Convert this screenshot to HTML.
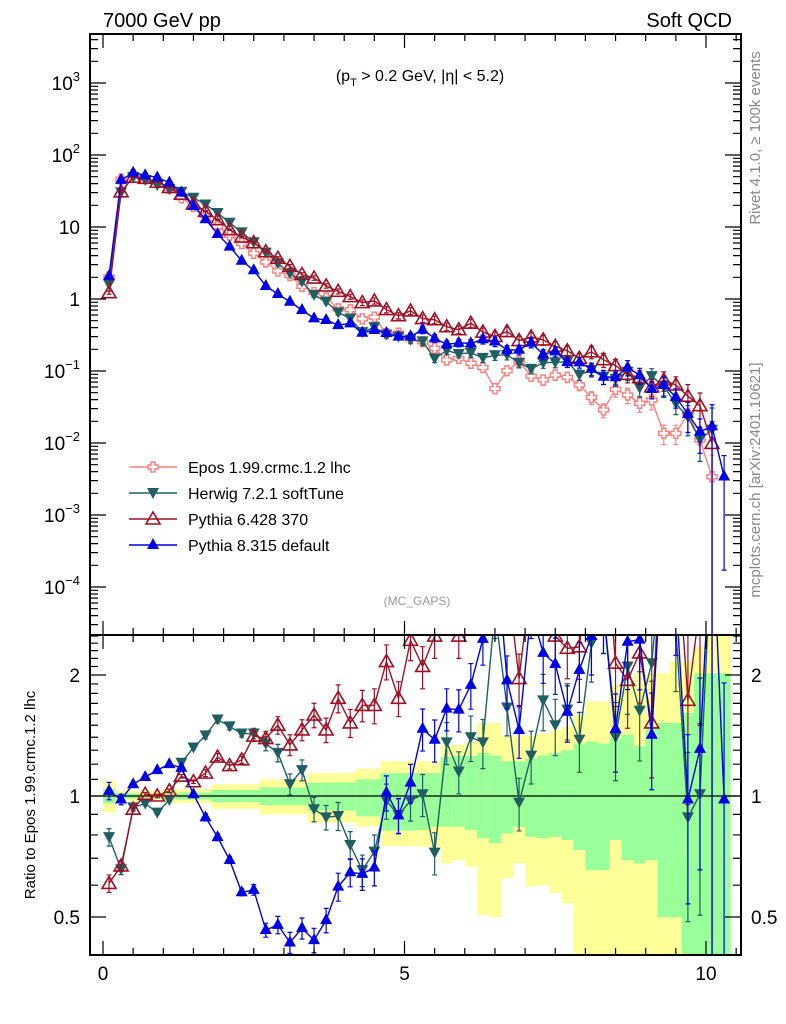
<!DOCTYPE html>
<html><head><meta charset="utf-8"><style>
html,body{margin:0;padding:0;background:#fff}
svg{display:block;font-family:"Liberation Sans",Arial,sans-serif}
</style></head><body>
<svg id="chart" width="786" height="1024" viewBox="0 0 786 1024" xmlns="http://www.w3.org/2000/svg">
<defs>
<clipPath id="clipMain"><rect x="90" y="34" width="651" height="601"/></clipPath>
<clipPath id="clipRatio"><rect x="90" y="635" width="651" height="320"/></clipPath>
</defs>
<g id="bands" clip-path="url(#clipRatio)"></g>
<g id="mainSeries" clip-path="url(#clipMain)"></g>
<g id="ratioSeries" clip-path="url(#clipRatio)"></g>
<g id="axes"></g>
<text x="103" y="27" font-size="20">7000 GeV pp</text>
<text x="732" y="27" font-size="20" text-anchor="end">Soft QCD</text>
<text x="420" y="81" font-size="16" text-anchor="middle">(p<tspan font-size="11" dy="5">T</tspan><tspan dy="-5"> &gt; 0.2 GeV, |η| &lt; 5.2)</tspan></text>
<text x="417" y="605" font-size="12" fill="#999" text-anchor="middle">(MC_GAPS)</text>
<text transform="translate(760,138) rotate(-90)" font-size="15" fill="#888" text-anchor="middle">Rivet 4.1.0, ≥ 100k events</text>
<text transform="translate(760,480) rotate(-90)" font-size="15" fill="#888" text-anchor="middle">mcplots.cern.ch [arXiv:2401.10621]</text>
<text transform="translate(35,795) rotate(-90)" font-size="15" text-anchor="middle">Ratio to Epos 1.99.crmc.1.2 lhc</text>
<g id="legend"></g>
</svg>
<script>
const xCenters = [0.1,0.3,0.5,0.7,0.9,1.1,1.3,1.5,1.7,1.9,2.1,2.3,2.5,2.7,2.9,3.1,3.3,3.5,3.7,3.9,4.1,4.3,4.5,4.7,4.9,5.1,5.3,5.5,5.7,5.9,6.1,6.3,6.5,6.7,6.9,7.1,7.3,7.5,7.7,7.9,8.1,8.3,8.5,8.7,8.9,9.1,9.3,9.5,9.7,9.9,10.1,10.3];
const eposValues = [2.02,46,53,47,42,34.4,25.5,19.3,14.5,10.1,7.7,5.9,4.3,3.26,2.45,2.12,1.5,1.23,1.04,0.73,0.71,0.53,0.56,0.33,0.335,0.28,0.255,0.206,0.142,0.15,0.128,0.112,0.057,0.101,0.135,0.085,0.075,0.088,0.082,0.064,0.043,0.0287,0.0556,0.0464,0.0356,0.0396,0.0136,0.0136,0.0258,0.011,0.0034,0.0035];
const eposShown = [1,1,1,1,1,1,1,1,1,1,1,1,1,1,1,1,1,1,1,1,1,1,1,1,1,1,1,1,1,1,1,1,1,1,1,1,1,1,1,1,1,1,1,1,1,1,1,1,1,1,1,0];
const herwigRatio = [0.79,0.657,0.937,0.958,0.909,0.977,1.21,1.32,1.415,1.55,1.49,1.43,1.43,1.35,1.28,1.07,1.16,0.927,0.885,0.892,0.755,0.654,0.727,0.973,0.897,0.973,1.01,0.723,1.36,1.15,1.40,1.36,2.9,1.66,0.963,1.26,1.73,1.5,1.64,1.38,2.4,2.9,1.4,2.1,1.63,2.14,4.5,2.6,0.885,1.01,4.5,null];
const pythia6Ratio = [0.606,0.67,0.927,1.01,1.0,1.03,1.12,1.085,1.14,1.25,1.19,1.23,1.41,1.39,1.5,1.34,1.46,1.59,1.46,1.75,1.52,1.68,1.68,2.16,1.75,2.44,2.1,2.5,2.9,2.5,3.6,3.1,5.3,3.5,1.96,3.5,3.6,2.5,2.33,2.35,4.3,5,2.14,1.94,2.27,1.52,5.5,4.7,1.73,3,2.9,null];
const pythia8Ratio = [1.03,0.98,1.07,1.115,1.16,1.2,1.176,1.01,0.885,0.79,0.693,0.576,0.584,0.464,0.478,0.432,0.469,0.438,0.491,0.595,0.646,0.64,0.664,1.02,0.895,1.08,1.47,1.38,1.65,1.64,1.89,2.46,4.5,1.94,1.46,2.9,2.27,2.13,1.62,2.06,2.5,2.9,1.47,2.42,2.45,1.42,4.7,3.2,0.98,1.31,5,0.98];
const errFrac = [0.05,0.03,0.01,0.01,0.01,0.01,0.01,0.01,0.02,0.02,0.02,0.02,0.03,0.04,0.05,0.06,0.06,0.07,0.07,0.08,0.08,0.09,0.1,0.1,0.1,0.11,0.12,0.12,0.12,0.12,0.13,0.14,0.15,0.15,0.15,0.15,0.16,0.16,0.16,0.17,0.2,0.22,0.22,0.24,0.25,0.27,0.3,0.3,0.45,0.5,1.0,0.95];
const yellowHi = [1.09,1.03,1.03,1.03,1.03,1.04,1.04,1.04,1.04,1.07,1.07,1.07,1.07,1.1,1.1,1.1,1.1,1.14,1.14,1.14,1.14,1.17,1.17,1.22,1.22,1.22,1.22,1.22,1.34,1.34,1.365,1.52,1.52,1.41,1.41,1.41,1.43,1.46,1.49,1.59,1.72,1.72,1.89,1.89,2.02,2.02,2.02,2.16,2.16,2.35,2.6,2.6];
const yellowLo = [0.91,0.97,0.97,0.97,0.97,0.96,0.96,0.96,0.96,0.93,0.93,0.93,0.93,0.9,0.9,0.9,0.9,0.86,0.86,0.86,0.86,0.84,0.84,0.75,0.75,0.75,0.748,0.748,0.68,0.693,0.667,0.506,0.5,0.624,0.68,0.595,0.6,0.573,0.541,0.3,0.3,0.3,0.3,0.3,0.3,0.3,0.3,0.3,0.68,0.3,0.3,0.3];
const greenHi = [1.04,1.015,1.015,1.015,1.015,1.02,1.02,1.02,1.02,1.035,1.035,1.035,1.035,1.05,1.05,1.05,1.05,1.08,1.08,1.08,1.08,1.1,1.1,1.14,1.14,1.14,1.14,1.14,1.25,1.26,1.26,1.28,1.26,1.22,1.22,1.24,1.26,1.28,1.3,1.35,1.365,1.35,1.39,1.42,1.33,1.49,1.52,1.52,1.61,2.02,2.02,2.02];
const greenLo = [0.96,0.985,0.985,0.985,0.985,0.98,0.98,0.98,0.98,0.965,0.965,0.965,0.965,0.95,0.95,0.95,0.95,0.92,0.92,0.92,0.92,0.89,0.89,0.82,0.82,0.82,0.823,0.839,0.839,0.839,0.823,0.785,0.763,0.807,0.839,0.792,0.785,0.792,0.777,0.734,0.654,0.654,0.777,0.693,0.68,0.693,0.5,0.5,0.3,0.3,0.3,0.3];
const mainTickExps = [3,2,1,0,-1,-2,-3,-4];
const ratioTickVals = [2,1,0.5];
const xTickLabels = [0,5,10];

const NS = "http://www.w3.org/2000/svg";
const X = x => 103 + 60.3 * x;
const Ym = v => 299 - 72 * Math.log10(v);
const Yr = r => 796 - 121 * Math.log2(r);
function mk(tag, attrs, parent) {
  const e = document.createElementNS(NS, tag);
  for (const k in attrs) e.setAttribute(k, attrs[k]);
  parent.appendChild(e);
  return e;
}
const gBands = document.getElementById('bands');
const gMain = document.getElementById('mainSeries');
const gRatio = document.getElementById('ratioSeries');
const gAxes = document.getElementById('axes');
const gLeg = document.getElementById('legend');

xCenters.forEach((x, i) => {
  const y = mk('rect', {x: X(x - 0.1), y: Yr(yellowHi[i]), width: X(x + 0.1) - X(x - 0.1) + 0.5, height: Yr(yellowLo[i]) - Yr(yellowHi[i]), fill: '#ffff99'}, gBands);
  
  
  const g = mk('rect', {x: X(x - 0.1), y: Yr(greenHi[i]), width: X(x + 0.1) - X(x - 0.1) + 0.5, height: Yr(greenLo[i]) - Yr(greenHi[i]), fill: '#99ff99'}, gBands);
  
  
});
const oneLine = mk('line', {x1: 90, x2: 741, y1: Yr(1), y2: Yr(1), stroke: '#000', 'stroke-width': 1.2}, gBands);



function marker(type, cx, cy, color, parent) {
  let e;
  if (type === 'cross') {
    const s = 5, w = 2;
    const d = `M${cx-w},${cy-s}H${cx+w}V${cy-w}H${cx+s}V${cy+w}H${cx+w}V${cy+s}H${cx-w}V${cy+w}H${cx-s}V${cy-w}H${cx-w}Z`;
    e = mk('path', {d: d, fill: '#fff', stroke: color, 'stroke-width': 1.5}, parent);
  } else if (type === 'down') {
    e = mk('path', {d: `M${cx-6},${cy-5}L${cx+6},${cy-5}L${cx},${cy+6}Z`, fill: color}, parent);
  } else if (type === 'open') {
    e = mk('path', {d: `M${cx},${cy-7}L${cx+7},${cy+5}L${cx-7},${cy+5}Z`, fill: 'none', stroke: color, 'stroke-width': 1.6}, parent);
  } else {
    e = mk('path', {d: `M${cx},${cy-7}L${cx+6},${cy+4}L${cx-6},${cy+4}Z`, fill: color}, parent);
  }
  return e;
}

const series = [
  {name: 'epos', label: 'Epos 1.99.crmc.1.2 lhc', color: '#ff8080', type: 'cross', ratio: null},
  {name: 'herwig', label: 'Herwig 7.2.1 softTune', color: '#1f5f63', type: 'down', ratio: herwigRatio},
  {name: 'pythia6', label: 'Pythia 6.428 370', color: '#a01025', type: 'open', ratio: pythia6Ratio},
  {name: 'pythia8', label: 'Pythia 8.315 default', color: '#0000e6', type: 'up', ratio: pythia8Ratio}
];

series.forEach(s => {
  const mainVals = s.ratio ? eposValues.map((v, i) => s.ratio[i] == null ? null : v * s.ratio[i]) : eposValues.map((v, i) => eposShown[i] ? v : null);
  const gm = mk('g', {}, gMain);
  
  
  let pts = [];
  mainVals.forEach((v, i) => { if (v != null) pts.push(X(xCenters[i]) + ',' + Ym(v)); });
  const pl = mk('polyline', {points: pts.join(' '), fill: 'none', stroke: s.color, 'stroke-width': 1.4}, gm);
  
  
  mainVals.forEach((v, i) => {
    if (v == null) return;
    const cx = X(xCenters[i]), cy = Ym(v);
    const lo = v * (1 - errFrac[i]), hi = v * (1 + errFrac[i]);
    const eb = mk('path', {d: `M${cx},${Ym(hi)}V${lo > 0 ? Ym(lo) : 700}M${cx-2.5},${Ym(hi)}H${cx+2.5}` + (lo > 0 ? `M${cx-2.5},${Ym(lo)}H${cx+2.5}` : ''), stroke: s.color, 'stroke-width': 1.2, fill: 'none'}, gm);
    
    
    const m = marker(s.type, cx, cy, s.color, gm);
    
    
  });
  if (s.ratio) {
    const gr = mk('g', {}, gRatio);
    
    
    let rp = [];
    s.ratio.forEach((r, i) => { if (r != null) rp.push(X(xCenters[i]) + ',' + Yr(r)); });
    const rl = mk('polyline', {points: rp.join(' '), fill: 'none', stroke: s.color, 'stroke-width': 1.4}, gr);
    
    
    s.ratio.forEach((r, i) => {
      if (r == null) return;
      const cx = X(xCenters[i]);
      const lo = r * (1 - errFrac[i]), hi = r * (1 + errFrac[i]);
      const eb = mk('path', {d: `M${cx},${Yr(hi)}V${lo > 0.05 ? Yr(lo) : 1000}M${cx-2.5},${Yr(hi)}H${cx+2.5}` + (lo > 0.05 ? `M${cx-2.5},${Yr(lo)}H${cx+2.5}` : ''), stroke: s.color, 'stroke-width': 1.2, fill: 'none'}, gr);
      
      
      const m = marker(s.type, cx, Yr(r), s.color, gr);
      
      
    });
  }
});

series.forEach((s, k) => {
  const y = 467 + 26 * k;
  const ln = mk('line', {x1: 129, x2: 177, y1: y, y2: y, stroke: s.color, 'stroke-width': 1.4}, gLeg);
  
  
  const m = marker(s.type, 153, y, s.color, gLeg);
  
  
  const t = mk('text', {x: 188, y: y + 6, 'font-size': 16}, gLeg);
  t.textContent = s.label;
  
  
});

const f1 = mk('rect', {x: 90, y: 34, width: 651, height: 601, fill: 'none', stroke: '#000', 'stroke-width': 2}, gAxes);


const f2 = mk('rect', {x: 90, y: 635, width: 651, height: 320, fill: 'none', stroke: '#000', 'stroke-width': 2}, gAxes);



let tk = '';
for (let x = 0; x <= 10.5; x += 0.5) {
  const px = X(x), major = Math.abs(x % 5) < 1e-6, L = major ? 14 : 7;
  tk += `M${px},34v${L}M${px},635v${-L}M${px},635v${L}M${px},955v${-L}`;
}
for (let e = -5; e <= 3; e++) {
  for (let m = 1; m <= 9; m++) {
    const y = Ym(m * Math.pow(10, e));
    if (y < 34 || y > 635) continue;
    const L = m === 1 ? 16 : 8;
    tk += `M90,${y}h${L}M741,${y}h${-L}`;
  }
}
[0.4,0.5,0.6,0.7,0.8,0.9,1,1.1,1.2,1.3,1.4,1.5,1.6,1.7,1.8,1.9,2,2.1,2.2,2.3,2.4,2.5].forEach(r => {
  const y = Yr(r); if (y < 635 || y > 955) return;
  const L = (r === 0.5 || r === 1 || r === 2) ? 16 : 8;
  tk += `M90,${y}h${L}M741,${y}h${-L}`;
});
const ticks = mk('path', {d: tk, stroke: '#000', 'stroke-width': 1.2, fill: 'none'}, gAxes);



mainTickExps.forEach(e => {
  const y = Ym(Math.pow(10, e)) + 7;
  const t = mk('text', {x: 80, y: y, 'font-size': 19, 'text-anchor': 'end'}, gAxes);
  if (e === 0) t.textContent = '1';
  else if (e === 1) t.textContent = '10';
  else {
    t.textContent = '10';
    const sp = mk('tspan', {dy: -9, 'font-size': 13}, t);
    sp.textContent = e < 0 ? '−' + (-e) : String(e);
  }
  
  
});
ratioTickVals.forEach(r => {
  const y = Yr(r) + 7;
  const t1 = mk('text', {x: 80, y: y, 'font-size': 19, 'text-anchor': 'end'}, gAxes);
  t1.textContent = String(r);
  
  
  const t2 = mk('text', {x: 751, y: y, 'font-size': 19}, gAxes);
  t2.textContent = String(r);
  
  
});
xTickLabels.forEach(x => {
  const t = mk('text', {x: X(x), y: 980, 'font-size': 19, 'text-anchor': 'middle'}, gAxes);
  t.textContent = String(x);
  
  
});
</script>
</body></html>
